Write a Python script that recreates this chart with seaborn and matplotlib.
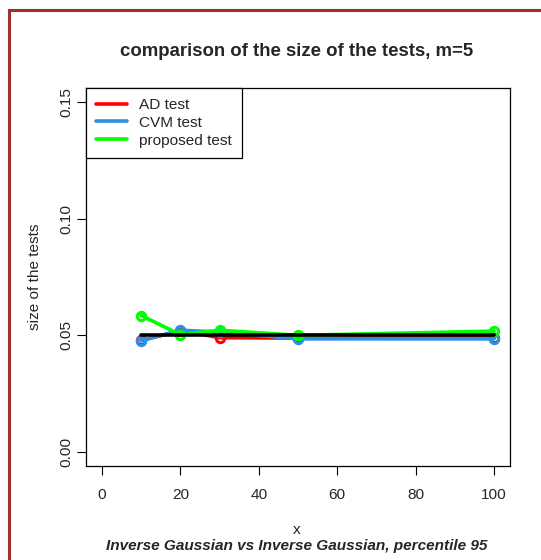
import matplotlib
matplotlib.use("Agg")
import matplotlib.pyplot as plt
import seaborn as sns
import pandas as pd
from matplotlib.patches import Rectangle
from matplotlib.lines import Line2D

# data
sample_sizes = [10, 20, 30, 50, 100]
ad_size = [0.0478, 0.0520, 0.0490, 0.0488, 0.0490]
cvm_size = [0.0477, 0.0522, 0.0514, 0.0485, 0.0485]
proposed_size = [0.0585, 0.0503, 0.0522, 0.0500, 0.0518]
nominal = [0.05, 0.05, 0.05, 0.05, 0.05]
series_names = ["AD test", "CVM test", "proposed test"]
series_colors = ["#FF0000", "#2D8FE6", "#00FF00"]
x_ticks = [0, 20, 40, 60, 80, 100]
y_ticks = [0.00, 0.05, 0.10, 0.15]
y_tick_labels = ["0.00", "0.05", "0.10", "0.15"]

sns.set_theme(style="ticks")
plt.rcParams['font.family'] = ['Liberation Sans', 'DejaVu Sans']

df = pd.DataFrame({
    "x": sample_sizes * 3,
    "size": ad_size + cvm_size + proposed_size,
    "test": [series_names[0]] * 5 + [series_names[1]] * 5 + [series_names[2]] * 5,
})

FS = 11.1

fig = plt.figure(figsize=(5.41, 5.60), dpi=100)
ax = fig.add_axes([86.3 / 541, 1 - 466 / 560, (509.7 - 86.3) / 541, (466 - 88) / 560])

for name, col in zip(series_names, series_colors):
    sub = df[df["test"] == name]
    sns.lineplot(data=sub, x="x", y="size", ax=ax, color=col, lw=2.6,
                 marker="o", markersize=6, markerfacecolor="none",
                 markeredgecolor=col, markeredgewidth=2.2, legend=False)

sns.lineplot(x=sample_sizes, y=nominal, ax=ax, color="black", lw=2.6, legend=False)

ax.set_xlim(-4, 104)
ax.set_ylim(-0.006, 0.156)
ax.set_xticks(x_ticks)
ax.set_yticks(y_ticks)
ax.set_yticklabels(y_tick_labels, rotation=90, va="center")
ax.tick_params(axis="both", labelsize=FS, length=6.5, width=0.8, color="black",
               direction="out")
ax.tick_params(axis="x", pad=9)
ax.tick_params(axis="y", pad=3)
for s in ax.spines.values():
    s.set_color("black")
    s.set_linewidth(0.9)

ax.set_xlabel("")
ax.set_ylabel("size of the tests", fontsize=FS, labelpad=12)

handles = [Line2D([0], [0], color=c, lw=2.6) for c in series_colors]
leg = ax.legend(handles, series_names, loc="upper left", bbox_to_anchor=(0, 1),
                borderaxespad=0, fancybox=False, edgecolor="black", framealpha=1,
                fontsize=FS, handlelength=2.0, handletextpad=0.8,
                labelspacing=0.25, borderpad=0.65)
leg.get_frame().set_linewidth(0.9)

fig.text(297 / 541, 1 - 52 / 560, "comparison of the size of the tests, m=5",
         ha="center", va="center", fontsize=13.4, fontweight="bold")
fig.text(297 / 541, 1 - 530 / 560, "x", ha="center", va="center", fontsize=FS)
fig.text(297 / 541, 1 - 546 / 560, "Inverse Gaussian vs Inverse Gaussian, percentile 95",
         ha="center", va="center", fontsize=FS, fontweight="bold", fontstyle="italic")

fig.patches.append(Rectangle((9 / 541, -0.1), 1.2, 1 - 10 / 560 + 0.1,
                             transform=fig.transFigure, fill=False,
                             edgecolor="#A0302C", lw=2.2, figure=fig))

fig.savefig("out.png", dpi=100)
